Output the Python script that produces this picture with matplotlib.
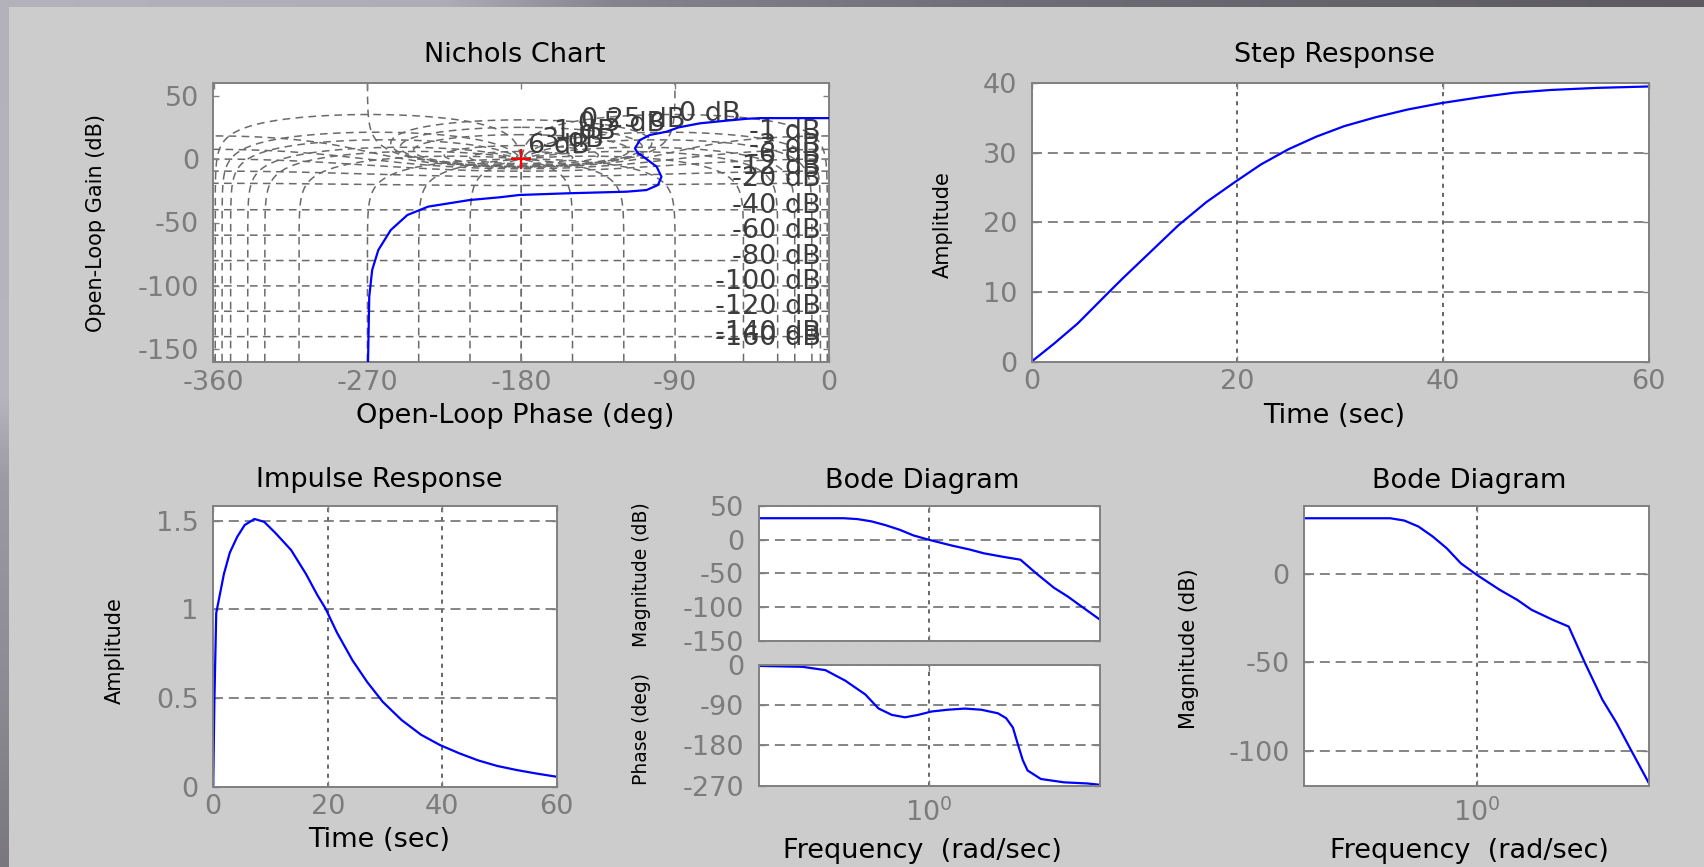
import numpy as np
import matplotlib
matplotlib.use("Agg")
import matplotlib.pyplot as plt
from matplotlib.ticker import NullLocator

W, H = 1704, 867

# open-loop response on the Nichols plane
nichols_phase = [0, -40, -48, -60, -75.5, -88, -95, -104.8, -110.6, -113.5, -112, -108.6,
                 -100.8, -98, -100, -106.7, -118.3, -153.4, -181.2, -192.4, -210.3, -234.5,
                 -246.6, -256.3, -263.6, -267.2, -268.9, -269.6, -269.7]
nichols_gain = [32.3, 32.3, 31.8, 30.3, 28.2, 25, 21.6, 19, 15, 8.5, 5, 1.9,
                -6, -13.9, -20.4, -24.4, -25.7, -27, -28.3, -30.1, -32.3, -37.5,
                -44.1, -55.9, -71.7, -87.5, -108.5, -158.5, -165]

# step response
step_t = [0, 2.2, 4.5, 7.6, 8.9, 11.6, 14.3, 17.0, 19.7, 22.3, 25.0, 27.7, 30.4,
          33.5, 36.6, 39.8, 43.8, 46.9, 50.5, 55.0, 60]
step_amp = [0, 2.6, 5.5, 10.1, 12.0, 15.8, 19.6, 22.9, 25.7, 28.3, 30.5, 32.3, 33.8,
            35.1, 36.2, 37.1, 38.0, 38.6, 39.0, 39.3, 39.5]

# impulse response
impulse_t = [0, 0.2, 0.53, 1.2, 1.87, 2.9, 4.2, 5.5, 7.2, 8.9, 10.9, 13.6, 16.2, 18.2,
             19.6, 21.6, 24.3, 26.9, 29.6, 32.9, 36.3, 39.6, 43.0, 46.3, 49.6, 53.0,
             56.3, 60]
impulse_amp = [0, 0.47, 0.98, 1.09, 1.20, 1.32, 1.41, 1.476, 1.51, 1.494, 1.43, 1.335,
               1.20, 1.08, 1.006, 0.87, 0.714, 0.59, 0.479, 0.376, 0.293, 0.235,
               0.188, 0.148, 0.117, 0.094, 0.075, 0.056]

# frequency response (rad/sec, dB, deg)
mag_w = [0.01, 0.099, 0.1445, 0.211, 0.308, 0.449, 0.655, 1.0, 1.85, 2.96, 4.33, 7.66,
         11.7, 17.9, 28.8, 42.1, 61.4, 100]
mag_db = [31.5, 31.5, 30.2, 26.8, 21.2, 14.5, 6.0, -0.5, -9.0, -14.7, -20.3, -26.0,
          -29.8, -50.0, -71.2, -84.4, -99.4, -118.5]
phase_w = [0.01, 0.0325, 0.0608, 0.1038, 0.1786, 0.2535, 0.363, 0.52, 0.745, 1.067,
           1.66, 2.606, 4.055, 6.368, 7.94, 9.55, 10.86, 12.47, 14.19, 20.3, 38.0,
           71.1, 100]
phase_deg = [-2, -4, -11.5, -35, -66, -97, -111.5, -117, -111.5, -104, -100, -97.5,
             -100, -108, -118.8, -140, -176, -213, -236, -255, -262.5, -265, -268]

# Nichols grid: closed-loop gain (dB) and phase (deg) contours
grid_gains = [6, 3, 1, 0.5, 0.25, 0, -1, -3, -6, -12, -20, -40, -60, -80, -100,
              -120, -140, -160]
grid_phases = [1, 5, 10, 20, 30, 50, 90, 120, 150, 180]
upper_labels = ['6 dB', '3 dB', '1 dB', '0.5 dB', '0.25 dB', '0 dB']
upper_label_phase = [-176, -168, -161, -147, -145, -88]
upper_label_gain = [10, 15, 21, 28, 31, 35.5]

BG = '#cccccc'
SPINE = '#808080'
TICKTXT = '#7c7c7c'
BLUE = '#0000ff'
FS = 19.5     # horizontal text
FSV = 15      # rotated y labels

plt.rcParams['font.family'] = ['DejaVu Sans']
plt.rcParams['axes.unicode_minus'] = False
plt.rcParams['mathtext.fontset'] = 'dejavusans'

fig = plt.figure(figsize=(W / 100, H / 100), dpi=100, facecolor=BG)


def gradient_strip(rect, stops, vertical=False):
    pos = np.array([s[0] for s in stops])
    cols = np.array([matplotlib.colors.to_rgb(s[1]) for s in stops])
    n = 400
    u = np.linspace(0, 1, n)
    rgb = np.stack([np.interp(u, pos, cols[:, k]) for k in range(3)], axis=-1)
    img = rgb[:, None, :] if vertical else rgb[None, :, :]
    a = fig.add_axes(rect)
    a.imshow(img, aspect='auto', interpolation='bilinear')
    a.set_axis_off()


# window frame shading
gradient_strip([0, 1 - 7 / H, 1, 7 / H],
               [(0, '#b4b2ba'), (0.26, '#aeacb4'), (0.36, '#85838b'),
                (0.6, '#6e6c74'), (1, '#5c5a60')])
gradient_strip([0, 0, 9 / W, 1 - 7 / H],
               [(0, '#b3b1b9'), (0.45, '#b7b5bd'), (0.55, '#9c9aa2'),
                (0.8, '#8c8a92'), (1, '#7a787e')], vertical=True)


def place(box):
    l, t, r, b = box
    return fig.add_axes([l / W, 1 - b / H, (r - l) / W, (b - t) / H])


def to_ax(box, x, y):
    l, t, r, b = box
    return (x - l) / (r - l), (b - y) / (b - t)


def style(ax, grid=True):
    for s in ax.spines.values():
        s.set_color(SPINE)
        s.set_linewidth(1.4)
    ax.tick_params(direction='in', length=4, width=1, color=SPINE, labelcolor=TICKTXT,
                   labelsize=FS, top=True, right=True)
    ax.tick_params(axis='x', pad=5.5)
    ax.tick_params(axis='y', pad=10.5)
    if grid:
        ax.xaxis.grid(True, color='#4d4d4d', linestyle=(0, (2.5, 3)), lw=1.2)
        ax.yaxis.grid(True, color='#707070', linestyle=(0, (6, 3.5)), lw=1.2)


def title(ax, box, text, x, y):
    xa, ya = to_ax(box, x, y)
    ax.set_title(text, fontsize=FS, x=xa, y=ya, pad=0, va='center', color='#000000')


def xlabel(ax, box, text, x, y):
    ax.set_xlabel(text, fontsize=FS, va='center', color='#000000')
    ax.xaxis.set_label_coords(*to_ax(box, x, y))


def ylabel(ax, box, text, x, y, size=FSV):
    ax.set_ylabel(text, fontsize=size, va='center', color='#000000')
    ax.yaxis.set_label_coords(*to_ax(box, x, y))


# ---------------- Nichols chart ----------------
nbox = (213.5, 83, 829, 362)
ax = place(nbox)
style(ax, grid=False)
ax.set_xlim(-360, 0)
ax.set_ylim(-160, 60)
ax.set_xticks([-360, -270, -180, -90, 0])
ax.set_yticks([-150, -100, -50, 0, 50])

grid_kw = dict(color='#6a6a6a', lw=1.1, linestyle=(0, (5, 3.5)), zorder=1)
for gdb in grid_gains:
    m = 10 ** (gdb / 20)
    if gdb < 0:
        th = np.linspace(0, -2 * np.pi, 1441)
    elif gdb == 0:
        th = np.linspace(1e-4, 2 * np.pi - 1e-4, 1441)
    else:
        th = np.linspace(0, 2 * np.pi, 1441)
    t = m * np.exp(1j * th)
    g = t / (1 - t)
    ph = np.degrees(np.unwrap(np.angle(g)))
    ph -= 360 * np.ceil((ph.max() - 0.01) / 360)
    ax.plot(ph, 20 * np.log10(np.abs(g)), **grid_kw)

m_path = np.concatenate([np.logspace(-9, -2, 300), np.linspace(0.01, 3, 30000),
                         np.logspace(np.log10(3), 5, 300)])
for phi in grid_phases:
    for sgn in (-1, 1):
        t = m_path * np.exp(1j * np.radians(sgn * phi))
        g = t / (1 - t)
        ph = np.degrees(np.unwrap(np.angle(g)))
        ph -= 360 * np.ceil((ph.max() - 0.01) / 360)
        ax.plot(ph, 20 * np.log10(np.abs(g)), **grid_kw)

lab_kw = dict(fontsize=FS, color='#3c3c3c', va='center', zorder=2, clip_on=True)
for gdb in grid_gains:
    if gdb < 0:
        m = 10 ** (gdb / 20)
        y = max(20 * np.log10(m / (1 - m)) + 3, -141)
        ax.text(-5, y, f'{gdb} dB', ha='right', **lab_kw)
for s, p, gdb in zip(upper_labels, upper_label_phase, upper_label_gain):
    ax.text(p, gdb, s, ha='left', **lab_kw)

ax.plot(nichols_phase, nichols_gain, color=BLUE, lw=1.6, zorder=3)
ax.plot([-180], [0], marker='+', color='#ff0000', ms=14, mew=1.6, zorder=4)

title(ax, nbox, 'Nichols Chart', 515, 55.4)
xlabel(ax, nbox, 'Open-Loop Phase (deg)', 515, 416)
ylabel(ax, nbox, 'Open-Loop Gain (dB)', 95.6, 223)

# ---------------- Step response ----------------
sbox = (1031.5, 83, 1648.5, 361.7)
ax = place(sbox)
style(ax)
ax.plot(step_t, step_amp, color=BLUE, lw=1.6)
ax.set_xlim(0, 60)
ax.set_ylim(0, 40)
ax.set_xticks([0, 20, 40, 60])
ax.set_yticks([0, 10, 20, 30, 40])
title(ax, sbox, 'Step Response', 1334.5, 55.4)
xlabel(ax, sbox, 'Time (sec)', 1334.5, 416)
ylabel(ax, sbox, 'Amplitude', 943.3, 225)

# ---------------- Impulse response ----------------
ibox = (213.2, 505.7, 556.8, 786.7)
ax = place(ibox)
style(ax)
ax.plot(impulse_t, impulse_amp, color=BLUE, lw=1.6)
ax.set_xlim(0, 60)
ax.set_ylim(0, 1.585)
ax.set_xticks([0, 20, 40, 60])
ax.set_yticks([0, 0.5, 1, 1.5])
ax.set_yticklabels(['0', '0.5', '1', '1.5'])
title(ax, ibox, 'Impulse Response', 379.3, 480.3)
xlabel(ax, ibox, 'Time (sec)', 379.3, 840)
ylabel(ax, ibox, 'Amplitude', 114.8, 651)


def log_freq_axis(ax, show_label=True):
    ax.set_xscale('log')
    ax.set_xlim(mag_w[0], mag_w[-1])
    ax.set_xticks([1])
    ax.set_xticklabels([r'$10^{0}$'] if show_label else [''])
    ax.xaxis.set_minor_locator(NullLocator())
    ax.tick_params(axis='x', pad=9)


# ---------------- Bode diagram (magnitude + phase) ----------------
mbox = (758.5, 505.7, 1100, 641)
pbox = (758.5, 665, 1100, 785.7)
ax = place(mbox)
style(ax)
ax.plot(mag_w, mag_db, color=BLUE, lw=1.6)
log_freq_axis(ax, show_label=False)
ax.set_ylim(-150, 50)
ax.set_yticks([-150, -100, -50, 0, 50])
title(ax, mbox, 'Bode Diagram', 922.5, 481)
ylabel(ax, mbox, 'Magnitude (dB)', 641.5, 575, size=13.5)

ax = place(pbox)
style(ax)
ax.plot(phase_w, phase_deg, color=BLUE, lw=1.6)
log_freq_axis(ax)
ax.set_ylim(-270, 0)
ax.set_yticks([-270, -180, -90, 0])
xlabel(ax, pbox, 'Frequency  (rad/sec)', 922.5, 851.5)
ylabel(ax, pbox, 'Phase (deg)', 641.5, 729, size=13.5)

# ---------------- Bode diagram (magnitude only) ----------------
rbox = (1304.4, 505.7, 1649, 786)
ax = place(rbox)
style(ax)
ax.plot(mag_w, mag_db, color=BLUE, lw=1.6)
log_freq_axis(ax)
ax.set_ylim(-120, 38.6)
ax.set_yticks([-100, -50, 0])
title(ax, rbox, 'Bode Diagram', 1469, 481)
xlabel(ax, rbox, 'Frequency  (rad/sec)', 1469, 851.5)
ylabel(ax, rbox, 'Magnitude (dB)', 1188.9, 649)

fig.savefig('out.png', dpi=100, facecolor=BG)
